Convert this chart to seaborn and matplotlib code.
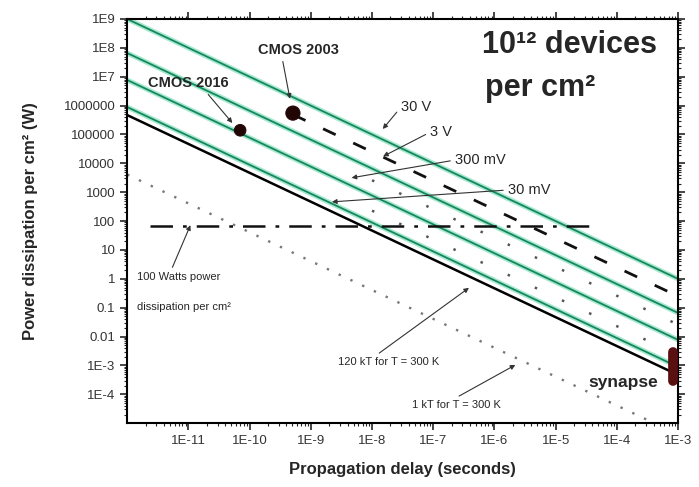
import numpy as np
import pandas as pd
import matplotlib
matplotlib.use("Agg")
import matplotlib.pyplot as plt
import matplotlib.ticker as mticker
import seaborn as sns

# valores (delay em s, potência em W/cm2)
delay_ends = [1e-12, 1e-3]
p_30V = [1e9, 1.0]
p_3V = [6.6e7, 6.6e-2]
p_300mV = [7.7e6, 7.7e-3]
p_30mV = [8.9e5, 8.9e-4]
p_120kT = [4.7e5, 4.7e-4]

delay_1kT = [1e-12, 4.1e-4]
p_1kT = [4.1e3, 1e-5]

delay_band = [1e-8, 1e-3]
p_band_a = [2.6e3, 2.6e-2]
p_band_b = [2.3e2, 2.3e-3]

delay_cmos_trend = [5.1e-10, 1e-3]
p_cmos_trend = [4.9e5, 0.25]

delay_100W = [2.4e-12, 3.7e-5]
p_100W = [70, 70]

cmos_names = ["CMOS 2016", "CMOS 2003"]
cmos_delay = [7.0e-11, 5.1e-10]
cmos_power = [1.4e5, 5.5e5]
cmos_size = [70, 105]

synapse_delay = [8.4e-4, 8.4e-4]
synapse_power = [3e-4, 3e-3]

x_ticks = [1e-11, 1e-10, 1e-9, 1e-8, 1e-7, 1e-6, 1e-5, 1e-4, 1e-3]
x_labels = ["1E-11", "1E-10", "1E-9", "1E-8", "1E-7", "1E-6", "1E-5", "1E-4", "1E-3"]
y_ticks = [1e-4, 1e-3, 1e-2, 1e-1, 1, 10, 100, 1e3, 1e4, 1e5, 1e6, 1e7, 1e8, 1e9]
y_labels = ["1E-4", "1E-3", "0.01", "0.1", "1", "10", "100", "1000", "10000",
            "100000", "1000000", "1E7", "1E8", "1E9"]

sns.set_style("ticks")
plt.rcParams['font.family'] = ['Liberation Sans', 'DejaVu Sans']

fig = plt.figure(figsize=(6.99, 4.87), dpi=100)
ax = fig.add_axes([0.182, 0.131, 0.788, 0.830])
ax.set(xscale='log', yscale='log')

# linhas verdes (com halo claro)
for p in [p_30V, p_3V, p_300mV, p_30mV]:
    sns.lineplot(x=delay_ends, y=p, ax=ax, color='#a6e9d2', lw=3.6)
    sns.lineplot(x=delay_ends, y=p, ax=ax, color='#17875a', lw=1.3)

sns.lineplot(x=delay_ends, y=p_120kT, ax=ax, color='black', lw=1.8)
sns.lineplot(x=delay_1kT, y=p_1kT, ax=ax, color='#777777', lw=1.7, linestyle=(0, (1, 4.5)))
sns.lineplot(x=delay_band, y=p_band_a, ax=ax, color='#555555', lw=1.8, linestyle=(0, (1, 11)))
sns.lineplot(x=delay_band, y=p_band_b, ax=ax, color='#555555', lw=1.8, linestyle=(0, (1, 11)))
sns.lineplot(x=delay_cmos_trend, y=p_cmos_trend, ax=ax, color='#111111', lw=2.0,
             linestyle=(0, (5, 7)))
sns.lineplot(x=delay_100W, y=p_100W, ax=ax, color='#111111', lw=1.8,
             linestyle=(0, (9, 4, 1.5, 4)))

sns.scatterplot(x=cmos_delay, y=cmos_power, s=cmos_size, color='#220606',
                edgecolor='#220606', ax=ax, zorder=5)
sns.lineplot(x=synapse_delay, y=synapse_power, ax=ax, color='#5a1010', lw=7,
             estimator=None, sort=False, solid_capstyle='round', zorder=5)

ax.set_xlim(1e-12, 1e-3)
ax.set_ylim(1e-5, 1e9)
ax.set_xticks(x_ticks)
ax.set_xticklabels(x_labels)
ax.set_yticks(y_ticks)
ax.set_yticklabels(y_labels)
minor = mticker.LogLocator(base=10, subs=np.arange(2, 10), numticks=100)
ax.xaxis.set_minor_locator(minor)
ax.yaxis.set_minor_locator(mticker.LogLocator(base=10, subs=np.arange(2, 10), numticks=100))
ax.xaxis.set_minor_formatter(mticker.NullFormatter())
ax.yaxis.set_minor_formatter(mticker.NullFormatter())
ax.tick_params(which='both', direction='out', top=True, right=True,
               labeltop=False, labelright=False, labelsize=9.5, labelcolor='#333333')
ax.tick_params(which='major', length=5, width=1.2)
ax.tick_params(which='minor', length=2.5, width=0.8)
for s in ax.spines.values():
    s.set_linewidth(1.5)
    s.set_color('black')

ax.set_xlabel("Propagation delay (seconds)", fontsize=12, fontweight='bold')
ax.set_ylabel("Power dissipation per cm² (W)", fontsize=12, fontweight='bold')
ax.xaxis.set_label_coords(0.5, -0.095)
ax.yaxis.set_label_coords(-0.162, 0.5)

# textos
ax.text(0.644, 0.936, "10¹² devices", transform=ax.transAxes, fontsize=22,
        fontweight='bold', va='center', ha='left')
ax.text(0.65, 0.829, "per cm²", transform=ax.transAxes, fontsize=22,
        fontweight='bold', va='center', ha='left')

arrow = dict(arrowstyle='-|>', color='#333333', lw=0.8, mutation_scale=7,
             relpos=(0, 0.5), shrinkA=1, shrinkB=1)
ax.annotate("CMOS 2003", xy=(4.6e-10, 1.55e6), xytext=(6.2e-10, 8.5e7),
            fontsize=10.5, fontweight='bold', ha='center', va='center',
            arrowprops=dict(arrow, relpos=(0.3, 0)))
ax.annotate("CMOS 2016", xy=(5.4e-11, 2.3e5), xytext=(1.0e-11, 6e6),
            fontsize=10.5, fontweight='bold', ha='center', va='center',
            arrowprops=dict(arrow, relpos=(0.7, 0)))
ax.annotate("30 V", xy=(1.45e-8, 1.42e5), xytext=(0.497, 0.782), textcoords='axes fraction',
            fontsize=10.5, ha='left', va='center', arrowprops=arrow)
ax.annotate("3 V", xy=(1.45e-8, 1.66e4), xytext=(0.550, 0.720), textcoords='axes fraction',
            fontsize=10.5, ha='left', va='center', arrowprops=arrow)
ax.annotate("300 mV", xy=(4.4e-9, 3.1e3), xytext=(0.595, 0.651), textcoords='axes fraction',
            fontsize=10.5, ha='left', va='center', arrowprops=arrow)
ax.annotate("30 mV", xy=(2.1e-9, 4.6e2), xytext=(0.691, 0.577), textcoords='axes fraction',
            fontsize=10.5, ha='left', va='center', arrowprops=arrow)
ax.annotate("100 Watts power", xy=(1.1e-11, 80), xytext=(0.018, 0.362), textcoords='axes fraction',
            fontsize=8, ha='left', va='center', arrowprops=dict(arrow, relpos=(0.4, 1)))
ax.text(0.018, 0.288, "dissipation per cm²", transform=ax.transAxes, fontsize=8,
        ha='left', va='center')
ax.annotate("120 kT for T = 300 K", xy=(4.0e-7, 0.52), xytext=(0.383, 0.151),
            textcoords='axes fraction', fontsize=8, ha='left', va='center',
            arrowprops=dict(arrow, relpos=(0.35, 1)))
ax.annotate("1 kT for T = 300 K", xy=(2.3e-6, 1.1e-3), xytext=(0.517, 0.045),
            textcoords='axes fraction', fontsize=8, ha='left', va='center',
            arrowprops=dict(arrow, relpos=(0.45, 1)))
ax.text(0.837, 0.10, "synapse", transform=ax.transAxes, fontsize=12.5,
        fontweight='bold', ha='left', va='center')

fig.savefig("out.png", dpi=100)
